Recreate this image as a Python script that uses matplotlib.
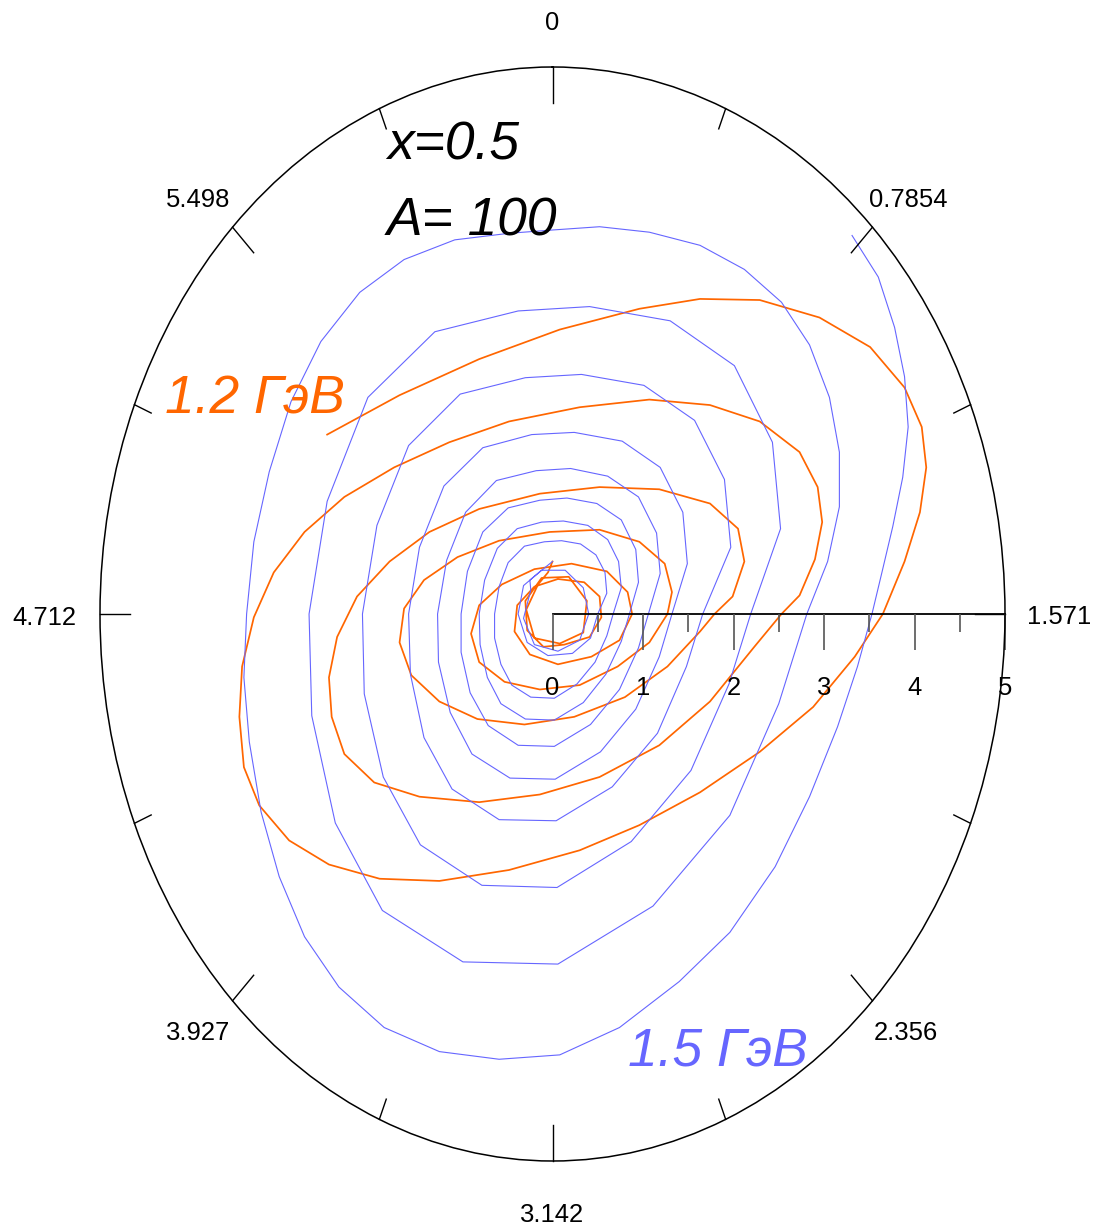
import numpy as np
import matplotlib
matplotlib.use("Agg")
import matplotlib.pyplot as plt
from matplotlib import font_manager
from matplotlib.markers import TICKDOWN

# ---------------------------------------------------------------- data
# Trajectories given as (east, north) components in radial units:
# east = r*sin(theta), north = r*cos(theta); theta clockwise from top.
orange_pts = [
    (-2.49, 1.64), (-1.69, 2.00), (-0.81, 2.33), (0.08, 2.60), (0.96, 2.79),
    (1.63, 2.88), (2.29, 2.87), (2.95, 2.71), (3.51, 2.44), (3.89, 2.07),
    (4.08, 1.71), (4.13, 1.34), (4.06, 0.93), (3.89, 0.48), (3.65, 0.00),
    (3.34, -0.39), (2.88, -0.85), (2.29, -1.26), (1.63, -1.63), (0.96, -1.93),
    (0.30, -2.16), (-0.48, -2.34), (-1.25, -2.44), (-1.91, -2.42), (-2.47, -2.29),
    (-2.91, -2.07), (-3.24, -1.75), (-3.41, -1.40), (-3.46, -0.94), (-3.43, -0.48),
    (-3.30, -0.03), (-3.08, 0.38), (-2.74, 0.75), (-2.30, 1.07), (-1.75, 1.34),
    (-1.14, 1.57), (-0.48, 1.76), (0.30, 1.89), (1.07, 1.96), (1.74, 1.91),
    (2.29, 1.76), (2.73, 1.48), (2.93, 1.16), (2.98, 0.84), (2.90, 0.50),
    (2.73, 0.17), (2.53, 0.00), (2.23, -0.30), (1.74, -0.80), (1.18, -1.20),
    (0.52, -1.49), (-0.14, -1.65), (-0.81, -1.72), (-1.47, -1.67), (-1.97, -1.54),
    (-2.30, -1.28), (-2.44, -0.94), (-2.47, -0.58), (-2.38, -0.21), (-2.16, 0.16),
    (-1.80, 0.48), (-1.36, 0.75), (-0.81, 0.96), (-0.14, 1.10), (0.52, 1.16),
    (1.18, 1.14), (1.74, 1.01), (2.05, 0.78), (2.12, 0.48), (1.99, 0.16),
    (1.79, 0.00), (1.63, -0.16), (1.27, -0.48), (0.80, -0.76), (0.24, -0.94),
    (-0.31, -1.01), (-0.83, -0.96), (-1.25, -0.80), (-1.56, -0.56), (-1.69, -0.26),
    (-1.64, 0.05), (-1.42, 0.31), (-1.05, 0.52), (-0.59, 0.67), (-0.03, 0.75),
    (0.52, 0.77), (0.96, 0.66), (1.24, 0.46), (1.32, 0.20), (1.27, 0.00),
    (1.07, -0.26), (0.72, -0.48), (0.30, -0.65), (-0.14, -0.69), (-0.53, -0.62),
    (-0.81, -0.44), (-0.90, -0.18), (-0.81, 0.08), (-0.56, 0.27), (-0.20, 0.41),
    (0.21, 0.46), (0.60, 0.39), (0.83, 0.20), (0.88, 0.00), (0.74, -0.24),
    (0.43, -0.39), (0.06, -0.46), (-0.25, -0.37), (-0.42, -0.16), (-0.39, 0.08),
    (-0.20, 0.25), (0.06, 0.32), (0.35, 0.29), (0.52, 0.16), (0.54, -0.03),
    (0.41, -0.21), (0.13, -0.28), (-0.10, -0.30), (-0.28, -0.15), (-0.30, 0.12),
    (-0.12, 0.33), (0.18, 0.34), (0.38, 0.12), (0.34, -0.17), (0.08, -0.27),
    (-0.20, -0.22), (-0.29, 0.04), (-0.16, 0.27), (-0.05, 0.38), (0.00, 0.48),
]

blue_pts = [
    (3.31, 3.46), (3.60, 3.08), (3.78, 2.62), (3.89, 2.17), (3.93, 1.71),
    (3.87, 1.25), (3.76, 0.80), (3.64, 0.38),
    # turn 1
    (3.53, 0.00), (3.37, -0.48), (3.15, -1.03), (2.84, -1.67), (2.46, -2.31),
    (1.96, -2.91), (1.40, -3.36), (0.74, -3.78), (0.08, -4.03), (-0.59, -4.07),
    (-1.25, -4.00), (-1.86, -3.78), (-2.36, -3.41), (-2.74, -2.95), (-3.02, -2.40),
    (-3.22, -1.81), (-3.35, -1.17), (-3.41, -0.58), (-3.38, 0.00), (-3.30, 0.66),
    (-3.13, 1.30), (-2.89, 1.94), (-2.56, 2.49), (-2.13, 2.94), (-1.64, 3.24),
    (-1.08, 3.42), (-0.48, 3.48), (0.00, 3.51), (0.52, 3.54), (1.07, 3.49),
    (1.63, 3.37), (2.12, 3.15), (2.53, 2.85), (2.84, 2.46), (3.06, 1.98),
    (3.17, 1.48), (3.17, 0.98), (3.04, 0.48),
    # turn 2
    (2.81, 0.00), (2.50, -0.82), (1.96, -1.84), (1.11, -2.67), (0.06, -3.20),
    (-0.99, -3.18), (-1.88, -2.71), (-2.40, -1.91), (-2.66, -0.93), (-2.69, 0.00),
    (-2.49, 1.03), (-2.04, 1.98), (-1.30, 2.58), (-0.38, 2.77), (0.41, 2.81),
    (1.30, 2.68), (2.01, 2.27), (2.43, 1.57), (2.52, 0.78),
    # turn 3
    (2.19, 0.00), (1.95, -0.64), (1.53, -1.43), (0.87, -2.08), (0.05, -2.50),
    (-0.78, -2.48), (-1.46, -2.11), (-1.87, -1.49), (-2.08, -0.73), (-2.10, 0.00),
    (-1.94, 0.81), (-1.59, 1.54), (-1.02, 2.01), (-0.30, 2.16), (0.32, 2.19),
    (1.01, 2.09), (1.57, 1.77), (1.90, 1.23), (1.97, 0.61),
    # turn 4
    (1.66, 0.00), (1.48, -0.48), (1.16, -1.09), (0.66, -1.58), (0.04, -1.89),
    (-0.59, -1.88), (-1.11, -1.60), (-1.42, -1.13), (-1.57, -0.55), (-1.59, 0.00),
    (-1.47, 0.61), (-1.20, 1.17), (-0.77, 1.52), (-0.23, 1.64), (0.24, 1.66),
    (0.77, 1.58), (1.19, 1.34), (1.44, 0.93), (1.49, 0.46),
    # turn 5
    (1.32, 0.00), (1.18, -0.39), (0.92, -0.87), (0.53, -1.26), (0.03, -1.51),
    (-0.47, -1.50), (-0.89, -1.28), (-1.13, -0.90), (-1.26, -0.44), (-1.27, 0.00),
    (-1.17, 0.49), (-0.96, 0.93), (-0.62, 1.22), (-0.18, 1.31), (0.20, 1.33),
    (0.61, 1.26), (0.95, 1.07), (1.15, 0.74), (1.19, 0.37),
    # turn 6
    (1.06, 0.00), (0.95, -0.31), (0.74, -0.69), (0.42, -1.01), (0.02, -1.21),
    (-0.38, -1.20), (-0.71, -1.02), (-0.91, -0.72), (-1.01, -0.35), (-1.01, 0.00),
    (-0.94, 0.39), (-0.77, 0.75), (-0.49, 0.97), (-0.14, 1.04), (0.16, 1.06),
    (0.49, 1.01), (0.76, 0.86), (0.92, 0.59), (0.95, 0.29),
    # turn 7
    (0.85, 0.00), (0.76, -0.25), (0.59, -0.55), (0.34, -0.81), (0.02, -0.97),
    (-0.30, -0.96), (-0.57, -0.82), (-0.72, -0.58), (-0.80, -0.28), (-0.81, 0.00),
    (-0.75, 0.31), (-0.61, 0.60), (-0.39, 0.78), (-0.12, 0.84), (0.12, 0.85),
    (0.39, 0.81), (0.61, 0.68), (0.73, 0.48), (0.76, 0.24),
    # turn 8
    (0.67, 0.00), (0.60, -0.20), (0.47, -0.44), (0.27, -0.64), (0.02, -0.77),
    (-0.24, -0.76), (-0.45, -0.65), (-0.57, -0.46), (-0.64, -0.22), (-0.64, 0.00),
    (-0.59, 0.25), (-0.49, 0.47), (-0.31, 0.62), (-0.09, 0.66), (0.10, 0.67),
    (0.31, 0.64), (0.48, 0.54), (0.58, 0.38), (0.60, 0.19),
    # core
    (0.50, 0.00), (0.42, -0.22), (0.22, -0.36), (-0.05, -0.38), (-0.28, -0.26),
    (-0.38, 0.00), (-0.32, 0.26), (-0.12, 0.40), (0.14, 0.40), (0.34, 0.24),
    (0.40, 0.00), (0.30, -0.24), (0.06, -0.34), (-0.20, -0.28), (-0.32, -0.04),
    (-0.24, 0.22), (-0.25, 0.31), (-0.12, 0.40), (0.00, 0.48),
]

theta_ticks = np.arange(8) * np.pi / 4
theta_labels = ["0", "0.7854", "1.571", "2.356", "3.142", "3.927", "4.712", "5.498"]
r_major = [0, 1, 2, 3, 4, 5]
r_minor = [0.5, 1.5, 2.5, 3.5, 4.5]
r_max = 5

ORANGE = "#ff6600"
BLUE = "#6666ff"

# ---------------------------------------------------------------- fonts
installed = {f.name for f in font_manager.fontManager.ttflist}
FONT, scale = "Liberation Sans", 0.88
for cand in ["Liberation Sans Narrow", "Arial Narrow", "Nimbus Sans Narrow"]:
    if cand in installed:
        FONT, scale = cand, 1.0
        break
plt.rcParams["font.family"] = [FONT, "DejaVu Sans"]
TICK_FS = 21 * scale
BIG_FS = 46 * scale * (0.95 if scale < 1 else 1.0)


def to_polar(pts):
    e, n = np.asarray(pts, dtype=float).T
    return np.unwrap(np.arctan2(e, n)), np.hypot(e, n)


# ---------------------------------------------------------------- figure
W, H = 1093, 1228
fig = plt.figure(figsize=(W / 100, H / 100), dpi=100)
ax = fig.add_axes([100 / W, (H - 1161) / H, 905 / W, 1094 / H], projection="polar")
ax.set_aspect("auto")
ax.set_theta_zero_location("N")
ax.set_theta_direction(-1)
ax.set_rlim(0, r_max)
ax.grid(False)
ax.set_xticks([])
ax.set_yticks([])
ax.spines["polar"].set_linewidth(1.1)
ax.spines["polar"].set_color("black")

for pts, col, lw in [(orange_pts, ORANGE, 1.25), (blue_pts, BLUE, 0.8)]:
    th, rr = to_polar(pts)
    ax.plot(th, rr, color=col, lw=lw, solid_joinstyle="round")

# angular ticks (pointing inward)
for t in theta_ticks:
    ax.plot([t, t], [r_max, r_max - 0.33], color="black", lw=1.0, clip_on=False)
for t in theta_ticks + np.pi / 8:
    ax.plot([t, t], [r_max, r_max - 0.2], color="black", lw=1.0, clip_on=False)

label_offsets = [(0, 36.5), (36, 20.5), (54, -10.5), (33, -39.5),
                 (0, -61), (-34, -39.5), (-56, -10.5), (-34, 20.5)]
for t, lab, off in zip(theta_ticks, theta_labels, label_offsets):
    ax.annotate(lab, xy=(t, r_max), xycoords="data", xytext=off,
                textcoords="offset pixels", ha="center", va="baseline",
                fontsize=TICK_FS, annotation_clip=False)

# radial axis along theta = pi/2
ax.plot([np.pi / 2, np.pi / 2], [0, r_max], color="black", lw=1.3, clip_on=False)
ax.plot(np.full(len(r_major), np.pi / 2), r_major, ls="none", marker=TICKDOWN,
        ms=26, mew=1.2, color="#555555", clip_on=False)
ax.plot(np.full(len(r_minor), np.pi / 2), r_minor, ls="none", marker=TICKDOWN,
        ms=13, mew=1.2, color="#555555", clip_on=False)
for rv in r_major:
    ax.annotate(str(rv), xy=(np.pi / 2, rv), xycoords="data", xytext=(0, -81),
                textcoords="offset pixels", ha="center", va="baseline",
                fontsize=TICK_FS, annotation_clip=False)

# annotations
fig.text(387 / W, 1 - 160 / H, "x=0.5", fontsize=BIG_FS, style="italic",
         ha="left", va="baseline")
fig.text(387 / W, 1 - 235 / H, "A= 100", fontsize=BIG_FS, style="italic",
         ha="left", va="baseline")
fig.text(165 / W, 1 - 413 / H, "1.2 ГэВ", fontsize=BIG_FS, style="italic",
         color=ORANGE, ha="left", va="baseline")
fig.text(628 / W, 1 - 1065 / H, "1.5 ГэВ", fontsize=BIG_FS, style="italic",
         color=BLUE, ha="left", va="baseline")

fig.savefig("out.png", dpi=100)
